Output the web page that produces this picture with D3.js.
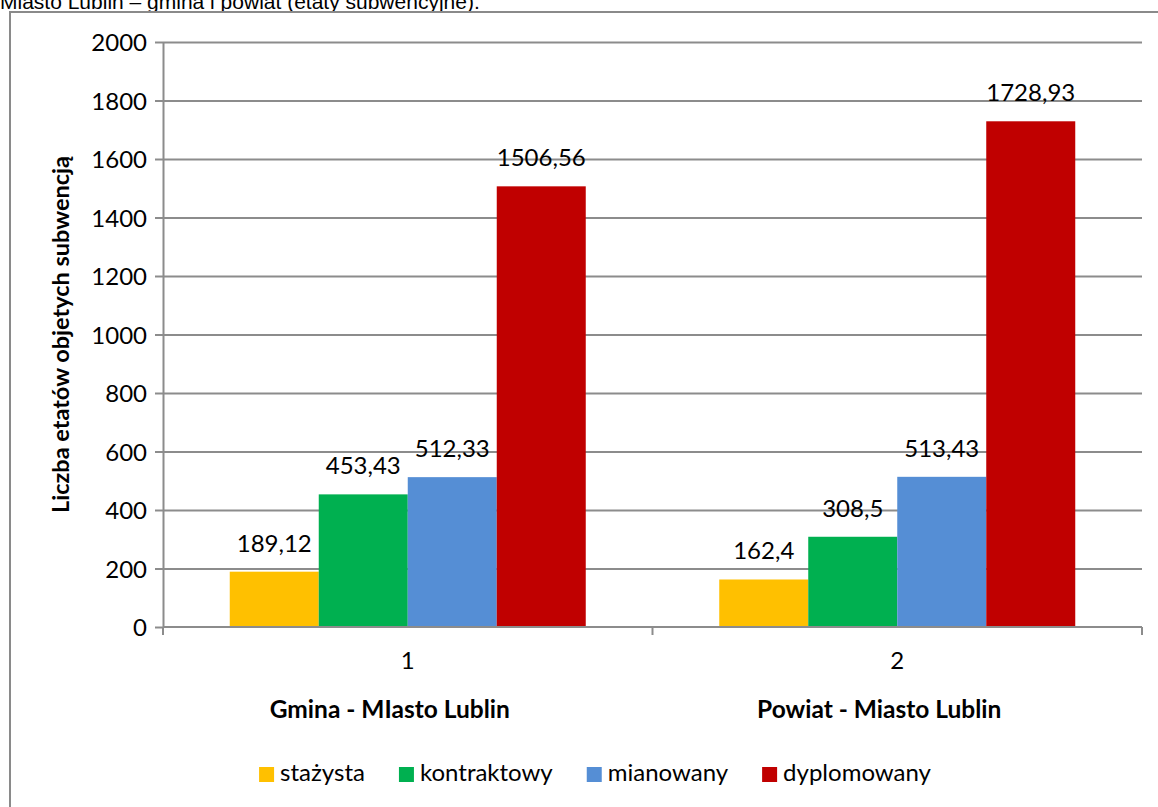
<!DOCTYPE html>
<html>
<head>
<meta charset="utf-8">
<script src="https://cdn.jsdelivr.net/npm/d3@7"></script>
<style>
  body { margin: 0; background: #fff; }
  svg text { font-family: Lato, "Liberation Sans", sans-serif; fill: #000; }
</style>
</head>
<body>
<div id="chart"></div>
<script>
// chart data
var categories = ["1", "2"];
var groupNames = ["Gmina - MIasto Lublin", "Powiat - Miasto Lublin"];
var seriesNames = ["stażysta", "kontraktowy", "mianowany", "dyplomowany"];
var seriesColors = ["#FFC000", "#00B050", "#558ED5", "#C00000"];
var stazysta = [189.12, 162.4];
var kontraktowy = [453.43, 308.5];
var mianowany = [512.33, 513.43];
var dyplomowany = [1506.56, 1728.93];
var yTicks = [0, 200, 400, 600, 800, 1000, 1200, 1400, 1600, 1800, 2000];

var seriesValues = [stazysta, kontraktowy, mianowany, dyplomowany];

var width = 1158, height = 807;
var plot = { left: 163, right: 1142, top: 42, bottom: 627 };
var fontSize = '24px';

var svg = d3.select('#chart')
    .append('svg')
    .attr('width', width)
    .attr('height', height);

// heading, cut off at the top of the picture like in the source
svg.append('text')
    .attr('x', 0)
    .attr('y', 9)
    .style('font-family', '"Liberation Sans", Arial, sans-serif')
    .style('font-size', '21px')
    .text('Miasto Lublin – gmina i powiat (etaty subwencyjne).');

// chart frame
svg.append('rect')
    .attr('x', 10)
    .attr('y', 12)
    .attr('width', 1200)
    .attr('height', 820)
    .attr('fill', 'none')
    .attr('stroke', '#8a8a8a')
    .attr('stroke-width', 2);

var xScale = d3.scaleBand()
    .domain(categories)
    .range([plot.left, plot.right])
    .padding(0);

var xInner = d3.scaleBand()
    .domain(seriesNames)
    .range([0, xScale.bandwidth()])
    .paddingInner(0)
    .paddingOuter(0.75);

var yScale = d3.scaleLinear()
    .domain([0, 2000])
    .range([plot.bottom, plot.top]);

// gridlines
svg.append('g')
    .attr('class', 'grid')
    .attr('transform', `translate(${plot.left}, 0)`)
    .call(d3.axisLeft(yScale)
        .tickValues(yTicks.slice(1))
        .tickSize(-(plot.right - plot.left))
        .tickFormat(''))
    .call(g => g.select('.domain').remove())
    .selectAll('line')
    .attr('stroke', '#8c8c8c')
    .attr('stroke-width', 2);

// bars
var bars = [];
categories.forEach(function (c, ci) {
    seriesNames.forEach(function (s, si) {
        bars.push({ cat: c, series: s, value: seriesValues[si][ci], color: seriesColors[si] });
    });
});

svg.selectAll('.bar').data(bars)
    .enter()
    .append('rect')
    .attr('class', 'bar')
    .attr('x', d => xScale(d.cat) + xInner(d.series))
    .attr('width', xInner.bandwidth())
    .attr('y', d => yScale(d.value))
    .attr('height', d => yScale(0) - yScale(d.value))
    .style('fill', d => d.color);

// value labels
svg.selectAll('.value').data(bars)
    .enter()
    .append('text')
    .attr('class', 'value')
    .attr('x', d => xScale(d.cat) + xInner(d.series) + xInner.bandwidth() / 2)
    .attr('y', d => yScale(d.value) - 20)
    .attr('text-anchor', 'middle')
    .style('font-size', fontSize)
    .text(d => String(d.value).replace('.', ','));

// y axis
var yAxis = svg.append('g')
    .attr('class', 'y axis')
    .attr('transform', `translate(${plot.left}, 0)`)
    .call(d3.axisLeft(yScale)
        .tickValues(yTicks)
        .tickFormat(d3.format('d'))
        .tickSize(8).tickPadding(8).tickSizeOuter(0));
yAxis.select('.domain').attr('stroke', '#8c8c8c').attr('stroke-width', 2);
yAxis.selectAll('line').attr('stroke', '#8c8c8c').attr('stroke-width', 2);
yAxis.selectAll('text')
    .style('font-size', fontSize)
    .style('font-family', 'Lato, sans-serif')
    .attr('fill', '#000')
    .attr('dy', '0.36em');

// x axis
var xAxis = svg.append('g')
    .attr('class', 'x axis')
    .attr('transform', `translate(0, ${plot.bottom})`);
xAxis.append('line')
    .attr('x1', plot.left).attr('x2', plot.right)
    .attr('stroke', '#8c8c8c').attr('stroke-width', 2);
var xBounds = [plot.left].concat(categories.map(c => xScale(c) + xScale.bandwidth()));
xAxis.selectAll('.tick').data(xBounds)
    .enter()
    .append('line')
    .attr('x1', d => d).attr('x2', d => d)
    .attr('y1', 0).attr('y2', 8)
    .attr('stroke', '#8c8c8c').attr('stroke-width', 2);
xAxis.selectAll('.cat').data(categories)
    .enter()
    .append('text')
    .attr('class', 'cat')
    .attr('x', d => xScale(d) + xScale.bandwidth() / 2)
    .attr('y', 42)
    .attr('text-anchor', 'middle')
    .style('font-size', fontSize)
    .text(d => d);
xAxis.selectAll('.group').data(groupNames)
    .enter()
    .append('text')
    .attr('class', 'group')
    .attr('x', (d, i) => xScale(categories[i]) + xScale.bandwidth() / 2 - 18)
    .attr('y', 91)
    .attr('text-anchor', 'middle')
    .style('font-size', '24.5px')
    .style('font-weight', 'bold')
    .text(d => d);

// y axis title
svg.append('text')
    .attr('transform', `translate(69, ${(plot.top + plot.bottom) / 2}) rotate(-90)`)
    .attr('text-anchor', 'middle')
    .style('font-size', '23.5px')
    .style('font-weight', 'bold')
    .text('Liczba etatów objetych subwencją');

// legend
var legend = svg.append('g').attr('class', 'legend');
var lx = 0;
seriesNames.forEach(function (s, i) {
    var item = legend.append('g').attr('transform', `translate(${lx}, 0)`);
    item.append('rect')
        .attr('x', 0).attr('y', -14)
        .attr('width', 15).attr('height', 15)
        .attr('fill', seriesColors[i]);
    var t = item.append('text')
        .attr('x', 21).attr('y', 0)
        .style('font-size', fontSize)
        .text(s);
    lx += 21 + t.node().getComputedTextLength() + 34;
});
var legendWidth = lx - 34;
legend.attr('transform', `translate(${595 - legendWidth / 2}, 781)`);
</script>
</body>
</html>
